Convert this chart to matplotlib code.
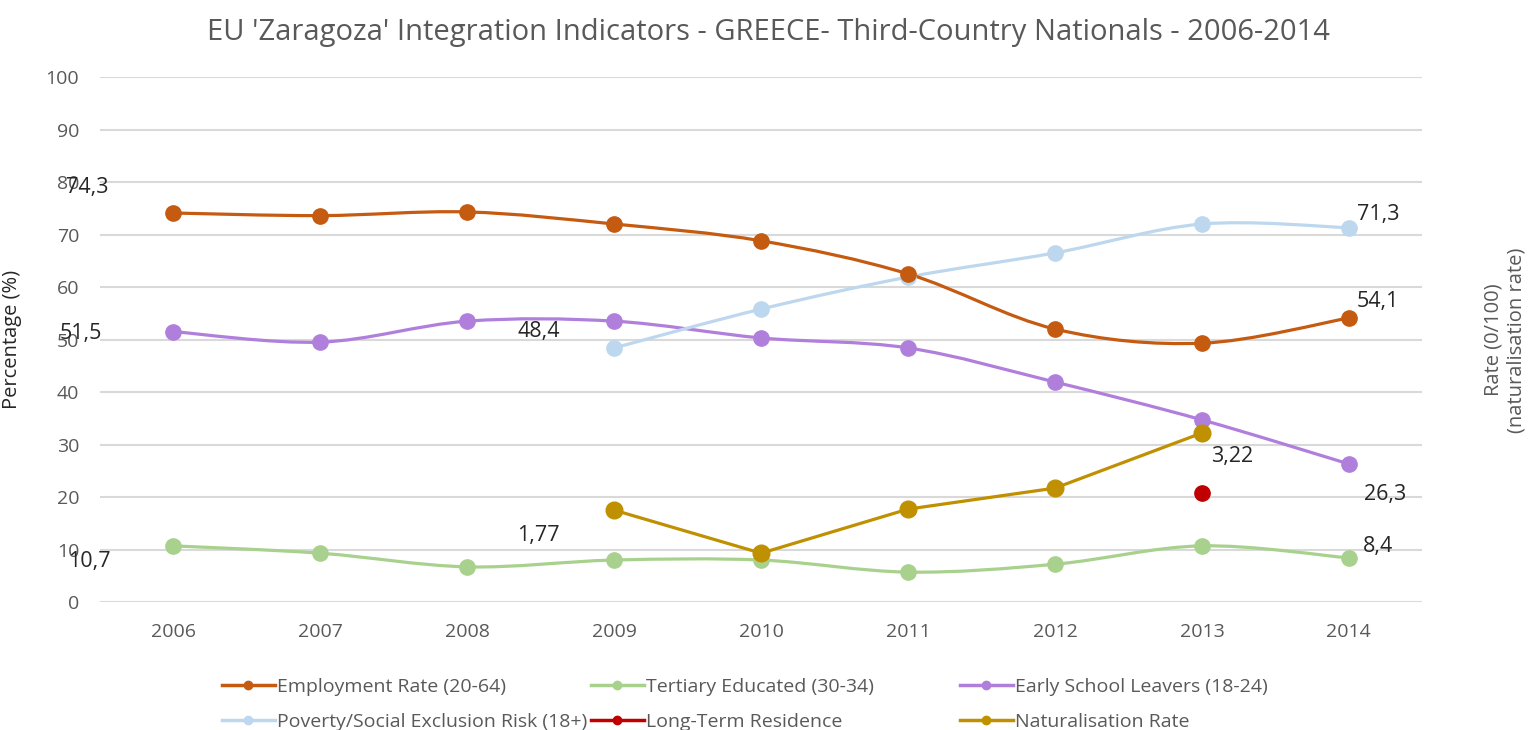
import matplotlib
matplotlib.use("Agg")
from matplotlib import pyplot as plt
from matplotlib.path import Path
from matplotlib.patches import PathPatch
from matplotlib.lines import Line2D

plt.rcParams['font.family'] = ['Open Sans', 'DejaVu Sans']

years = ["2006", "2007", "2008", "2009", "2010", "2011", "2012", "2013", "2014"]

employment = [74.1, 73.6, 74.3, 72.0, 68.8, 62.5, 52.0, 49.3, 54.1]
tertiary = [10.7, 9.3, 6.7, 8.0, 8.0, 5.7, 7.2, 10.7, 8.4]
early_school = [51.5, 49.5, 53.5, 53.5, 50.3, 48.4, 41.9, 34.7, 26.3]
poverty_years = ["2009", "2010", "2011", "2012", "2013", "2014"]
poverty = [48.4, 55.8, 61.9, 66.5, 72.0, 71.3]
ltr_years = ["2013"]
long_term = [20.8]
nat_years = ["2009", "2010", "2011", "2012", "2013"]
naturalisation = [1.75, 0.93, 1.77, 2.17, 3.22]   # right axis, 0-10

# stray data labels as they sit in the source chart: (text, series, year)
labels = [("74,3", "emp", "2006"), ("51,5", "early", "2006"), ("10,7", "tert", "2006"),
          ("48,4", "pov", "2009"), ("1,77", "nat", "2009"), ("3,22", "nat", "2013"),
          ("26,3", "early", "2014"), ("8,4", "tert", "2014"), ("71,3", "pov", "2014"),
          ("54,1", "emp", "2014")]
label_offsets = [(-86, 25), (-93, -2), (-84, -16), (-75, 16), (-76, -25), (30, -24),
                 (36, -31), (29, 11), (29, 13), (29, 16)]

c_emp = '#C55A11'
c_tert = '#A9D18E'
c_early = '#B07FDC'
c_pov = '#BDD7EE'
c_ltr = '#C00000'
c_nat = '#BF9000'
grey = '#595959'

fig = plt.figure(figsize=(15.31, 7.30), dpi=100)
ax = fig.add_axes([0.0653, 0.1753, 0.8637, 0.7192])
ax2 = ax.twinx()


def idx(ys):
    return [years.index(y) for y in ys]


def smooth_line(axis, xs, ys, color):
    # excel style smoothed line (catmull-rom as bezier segments)
    n = len(xs)
    verts = [(xs[0], ys[0])]
    codes = [Path.MOVETO]
    for i in range(n - 1):
        a = i - 1 if i > 0 else i
        d = i + 2 if i + 2 < n else i + 1
        c1 = (xs[i] + (xs[i + 1] - xs[a]) / 6, ys[i] + (ys[i + 1] - ys[a]) / 6)
        c2 = (xs[i + 1] - (xs[d] - xs[i]) / 6, ys[i + 1] - (ys[d] - ys[i]) / 6)
        verts += [c1, c2, (xs[i + 1], ys[i + 1])]
        codes += [Path.CURVE4] * 3
    axis.add_patch(PathPatch(Path(verts, codes), fill=False, edgecolor=color,
                             lw=2.3, capstyle='round', zorder=3))
    axis.plot(xs, ys, 'o', color=color, ms=11, zorder=4)


series = {
    "emp": (idx(years), employment, c_emp),
    "tert": (idx(years), tertiary, c_tert),
    "early": (idx(years), early_school, c_early),
    "pov": (idx(poverty_years), poverty, c_pov),
}
for key in ["tert", "early", "pov", "emp"]:
    xs, ys, col = series[key]
    smooth_line(ax, xs, ys, col)

ax.plot(idx(ltr_years), long_term, 'o', color=c_ltr, ms=11, zorder=4)
ax2.plot(idx(nat_years), naturalisation, '-o', color=c_nat, lw=2.3, ms=12, zorder=4)

ax.set_xlim(-0.5, len(years) - 0.5)
ax.set_ylim(0, 100)
ax2.set_ylim(0, 10)
ax.set_yticks(range(0, 101, 10))
ax.set_xticks(range(len(years)))
ax.set_xticklabels(years)
ax.grid(axis='y', color='#D9D9D9', lw=1.5)
ax.set_axisbelow(True)
for a in (ax, ax2):
    for s in a.spines.values():
        s.set_visible(False)
ax.tick_params(axis='both', length=0, labelsize=14, labelcolor=grey)
ax.tick_params(axis='x', pad=15)
ax.tick_params(axis='y', pad=15)
ax2.set_yticks([])
ax.set_ylabel("Percentage (%)", fontsize=14.5, color='#262626')
ax.yaxis.set_label_coords(-0.059, 0.5)
fig.text(1505 / 1531, 0.534, "Rate (0/100)\n(naturalisation rate)", rotation=90,
         ha='center', va='center', multialignment='center', fontsize=14.5, color=grey)

fig.text(0.502, 0.956, "EU 'Zaragoza' Integration Indicators - GREECE- Third-Country Nationals - 2006-2014",
         ha='center', va='center', fontsize=21, color=grey)

for (txt, key, yr), (dx, dy) in zip(labels, label_offsets):
    if key == "nat":
        i = nat_years.index(yr)
        ax2.annotate(txt, (idx(nat_years)[i], naturalisation[i]), xytext=(dx, dy),
                     textcoords='offset pixels', ha='center', va='center',
                     fontsize=15.5, color='#262626', zorder=6)
    else:
        xs, ys, col = series[key]
        i = [years[k] for k in xs].index(yr)
        ax.annotate(txt, (xs[i], ys[i]), xytext=(dx, dy), textcoords='offset pixels',
                    ha='center', va='center', fontsize=15.5, color='#262626', zorder=6)

legend_items = [("Employment Rate (20-64)", c_emp), ("Tertiary Educated (30-34)", c_tert),
                ("Early School Leavers (18-24)", c_early), ("Poverty/Social Exclusion Risk (18+)", c_pov),
                ("Long-Term Residence", c_ltr), ("Naturalisation Rate", c_nat)]
legend_anchor = [(222, 687), (591, 687), (960, 687), (222, 722), (591, 722), (960, 722)]
for (name, col), (px, py) in zip(legend_items, legend_anchor):
    h = Line2D([], [], color=col, lw=2.5, marker='o', ms=6)
    lg = fig.legend([h], [name], loc='center left', bbox_to_anchor=(px / 1531, 1 - py / 730),
                    frameon=False, fontsize=14, borderpad=0, borderaxespad=0,
                    handlelength=2.7, handletextpad=0.15)
    for t in lg.get_texts():
        t.set_color(grey)

fig.savefig("out.png", dpi=100)
